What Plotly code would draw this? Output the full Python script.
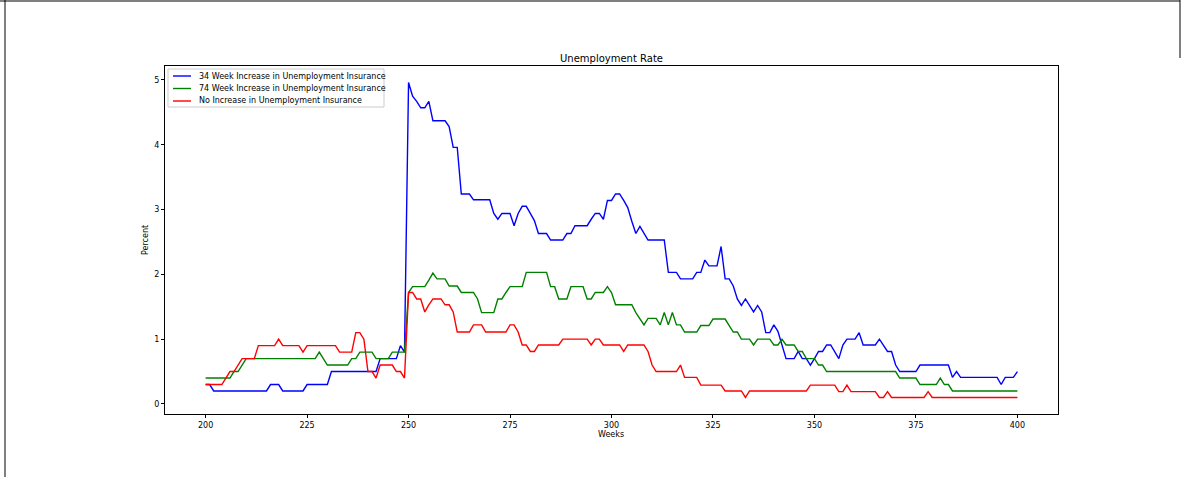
import plotly.graph_objects as go

weeks = list(range(200, 401))

increase_34 = [
    0.3, 0.3, 0.2, 0.2, 0.2, 0.2, 0.2, 0.2, 0.2, 0.2,
    0.2, 0.2, 0.2, 0.2, 0.2, 0.2, 0.3, 0.3, 0.3, 0.2,
    0.2, 0.2, 0.2, 0.2, 0.2, 0.3, 0.3, 0.3, 0.3, 0.3,
    0.3, 0.5, 0.5, 0.5, 0.5, 0.5, 0.5, 0.5, 0.5, 0.5,
    0.5, 0.5, 0.5, 0.7, 0.7, 0.7, 0.7, 0.7, 0.9, 0.8,
    4.96, 4.75, 4.67, 4.57, 4.57, 4.67, 4.37, 4.37, 4.37, 4.37,
    4.28, 3.96, 3.96, 3.24, 3.24, 3.24, 3.15, 3.15, 3.15, 3.15,
    3.15, 2.94, 2.85, 2.94, 2.94, 2.94, 2.75, 2.94, 3.05, 3.05,
    2.94, 2.83, 2.63, 2.63, 2.63, 2.53, 2.53, 2.53, 2.53, 2.63,
    2.63, 2.75, 2.75, 2.75, 2.75, 2.85, 2.94, 2.94, 2.85, 3.14,
    3.14, 3.24, 3.24, 3.14, 3.03, 2.82, 2.63, 2.74, 2.63, 2.53,
    2.53, 2.53, 2.53, 2.53, 2.03, 2.03, 2.03, 1.93, 1.93, 1.93,
    1.93, 2.03, 2.03, 2.22, 2.13, 2.13, 2.13, 2.43, 1.93, 1.93,
    1.82, 1.62, 1.52, 1.62, 1.52, 1.42, 1.52, 1.42, 1.10, 1.10,
    1.22, 1.12, 0.91, 0.70, 0.70, 0.70, 0.81, 0.70, 0.70, 0.60,
    0.70, 0.81, 0.81, 0.91, 0.91, 0.81, 0.70, 0.91, 1.0, 1.0,
    1.0, 1.10, 0.91, 0.91, 0.91, 0.91, 1.0, 0.91, 0.81, 0.81,
    0.60, 0.50, 0.50, 0.50, 0.50, 0.50, 0.60, 0.60, 0.60, 0.60,
    0.60, 0.60, 0.60, 0.60, 0.41, 0.50, 0.41, 0.41, 0.41, 0.41,
    0.41, 0.41, 0.41, 0.41, 0.41, 0.41, 0.30, 0.41, 0.41, 0.41,
    0.50,
]

increase_74 = [
    0.4, 0.4, 0.4, 0.4, 0.4, 0.4, 0.4, 0.5, 0.5, 0.6,
    0.7, 0.7, 0.7, 0.7, 0.7, 0.7, 0.7, 0.7, 0.7, 0.7,
    0.7, 0.7, 0.7, 0.7, 0.7, 0.7, 0.7, 0.7, 0.8, 0.7,
    0.6, 0.6, 0.6, 0.6, 0.6, 0.6, 0.7, 0.7, 0.8, 0.8,
    0.8, 0.8, 0.7, 0.7, 0.7, 0.7, 0.8, 0.8, 0.8, 0.8,
    1.72, 1.81, 1.81, 1.81, 1.81, 1.91, 2.02, 1.93, 1.93, 1.93,
    1.82, 1.82, 1.82, 1.72, 1.72, 1.72, 1.72, 1.62, 1.41, 1.41,
    1.41, 1.41, 1.62, 1.62, 1.72, 1.81, 1.81, 1.81, 1.81, 2.03,
    2.03, 2.03, 2.03, 2.03, 2.03, 1.81, 1.81, 1.62, 1.62, 1.62,
    1.81, 1.81, 1.81, 1.81, 1.62, 1.62, 1.72, 1.72, 1.72, 1.81,
    1.72, 1.53, 1.53, 1.53, 1.53, 1.53, 1.41, 1.32, 1.22, 1.32,
    1.32, 1.32, 1.22, 1.41, 1.22, 1.41, 1.22, 1.22, 1.11, 1.11,
    1.11, 1.11, 1.21, 1.21, 1.21, 1.31, 1.31, 1.31, 1.31, 1.21,
    1.11, 1.11, 1.0, 1.0, 1.0, 0.91, 1.0, 1.0, 1.0, 1.0,
    0.91, 0.91, 1.0, 0.91, 0.91, 0.91, 0.81, 0.81, 0.70, 0.70,
    0.70, 0.60, 0.60, 0.50, 0.50, 0.50, 0.50, 0.50, 0.50, 0.50,
    0.50, 0.50, 0.50, 0.50, 0.50, 0.50, 0.50, 0.50, 0.50, 0.50,
    0.50, 0.40, 0.40, 0.40, 0.40, 0.40, 0.30, 0.30, 0.30, 0.30,
    0.30, 0.40, 0.30, 0.30, 0.20, 0.20, 0.20, 0.20, 0.20, 0.20,
    0.20, 0.20, 0.20, 0.20, 0.20, 0.20, 0.20, 0.20, 0.20, 0.20,
    0.20,
]

no_increase = [
    0.3, 0.3, 0.3, 0.3, 0.3, 0.4, 0.5, 0.5, 0.6, 0.7,
    0.7, 0.7, 0.7, 0.9, 0.9, 0.9, 0.9, 0.9, 1.0, 0.9,
    0.9, 0.9, 0.9, 0.9, 0.8, 0.9, 0.9, 0.9, 0.9, 0.9,
    0.9, 0.9, 0.9, 0.8, 0.8, 0.8, 0.8, 1.1, 1.1, 1.0,
    0.5, 0.5, 0.4, 0.6, 0.6, 0.6, 0.6, 0.5, 0.5, 0.4,
    1.72, 1.72, 1.62, 1.62, 1.42, 1.53, 1.62, 1.62, 1.62, 1.53,
    1.53, 1.42, 1.11, 1.11, 1.11, 1.11, 1.22, 1.22, 1.22, 1.11,
    1.11, 1.11, 1.11, 1.11, 1.11, 1.22, 1.22, 1.11, 0.91, 0.91,
    0.81, 0.81, 0.91, 0.91, 0.91, 0.91, 0.91, 0.91, 1.0, 1.0,
    1.0, 1.0, 1.0, 1.0, 1.0, 0.91, 1.0, 1.0, 0.91, 0.91,
    0.91, 0.91, 0.91, 0.81, 0.91, 0.91, 0.91, 0.91, 0.91, 0.81,
    0.60, 0.50, 0.50, 0.50, 0.50, 0.50, 0.50, 0.60, 0.41, 0.41,
    0.41, 0.41, 0.29, 0.29, 0.29, 0.29, 0.29, 0.29, 0.20, 0.20,
    0.20, 0.20, 0.20, 0.10, 0.20, 0.20, 0.20, 0.20, 0.20, 0.20,
    0.20, 0.20, 0.20, 0.20, 0.20, 0.20, 0.20, 0.20, 0.20, 0.29,
    0.29, 0.29, 0.29, 0.29, 0.29, 0.29, 0.19, 0.19, 0.29, 0.19,
    0.19, 0.19, 0.19, 0.19, 0.19, 0.19, 0.10, 0.10, 0.19, 0.10,
    0.10, 0.10, 0.10, 0.10, 0.10, 0.10, 0.10, 0.10, 0.19, 0.10,
    0.10, 0.10, 0.10, 0.10, 0.10, 0.10, 0.10, 0.10, 0.10, 0.10,
    0.10, 0.10, 0.10, 0.10, 0.10, 0.10, 0.10, 0.10, 0.10, 0.10,
    0.10,
]

series_names = [
    "34 Week Increase in Unemployment Insurance",
    "74 Week Increase in Unemployment Insurance",
    "No Increase in Unemployment Insurance",
]
series_colors = ["#0000ff", "#008000", "#ff0000"]
x_ticks = [200, 225, 250, 275, 300, 325, 350, 375, 400]
y_ticks = [0, 1, 2, 3, 4, 5]

fig = go.Figure()
for name, vals, col in zip(series_names, [increase_34, increase_74, no_increase], series_colors):
    fig.add_trace(go.Scatter(x=weeks, y=vals, mode="lines", name=name,
                             line=dict(color=col, width=1.4)))

font_family = "DejaVu Sans, sans-serif"
W, H = 1182, 477
ml, mr, mt, mb = 165, 124, 66, 63
pw, ph = W - ml - mr, H - mt - mb

def px_x(px):
    return (px - ml) / pw

def px_y(py):
    return (H - mb - py) / ph

axis_common = dict(showline=True, linecolor="black", linewidth=1, mirror=True,
                   ticks="outside", ticklen=3, tickcolor="black", tickwidth=1,
                   showgrid=False, zeroline=False,
                   tickfont=dict(family=font_family, size=8, color="black"))

shapes = [
    # outer frame of the picture
    dict(type="line", xref="paper", yref="paper", x0=px_x(0), x1=px_x(1180), y0=px_y(1), y1=px_y(1),
         line=dict(color="black", width=1)),
    dict(type="line", xref="paper", yref="paper", x0=px_x(5), x1=px_x(5), y0=px_y(0), y1=px_y(H),
         line=dict(color="black", width=1)),
    dict(type="line", xref="paper", yref="paper", x0=px_x(1180), x1=px_x(1180), y0=px_y(0), y1=px_y(58),
         line=dict(color="black", width=1)),
    # legend box
    dict(type="rect", xref="paper", yref="paper", x0=px_x(168), x1=px_x(384), y0=px_y(69), y1=px_y(107),
         line=dict(color="#cccccc", width=1), fillcolor="rgba(255,255,255,0.8)"),
]
annotations = []
legend_rows = [76, 88.5, 101]
for name, col, ry in zip(series_names, series_colors, legend_rows):
    shapes.append(dict(type="line", xref="paper", yref="paper", x0=px_x(173), x1=px_x(191),
                       y0=px_y(ry), y1=px_y(ry), line=dict(color=col, width=1.4)))
    annotations.append(dict(xref="paper", yref="paper", x=px_x(197), y=px_y(ry), text=name,
                            showarrow=False, xanchor="left", yanchor="middle",
                            font=dict(family=font_family, size=8, color="black")))

annotations.append(dict(xref="paper", yref="paper", x=px_x(611), y=px_y(434), text="Weeks",
                        showarrow=False, xanchor="center", yanchor="middle",
                        font=dict(family=font_family, size=8, color="black")))
annotations.append(dict(xref="paper", yref="paper", x=px_x(145), y=px_y(240), text="Percent",
                        showarrow=False, xanchor="center", yanchor="middle", textangle=-90,
                        font=dict(family=font_family, size=8, color="black")))
annotations.append(dict(xref="paper", yref="paper", x=px_x(611), y=px_y(58), text="Unemployment Rate",
                        showarrow=False, xanchor="center", yanchor="middle",
                        font=dict(family=font_family, size=10, color="black")))

fig.update_layout(
    width=W, height=H,
    margin=dict(l=ml, r=mr, t=mt, b=mb),
    paper_bgcolor="white", plot_bgcolor="white",
    font=dict(family=font_family, size=8, color="black"),
    xaxis=dict(range=[190, 410], tickvals=x_ticks, **axis_common),
    yaxis=dict(range=[-0.155, 5.215], tickvals=y_ticks, **axis_common),
    showlegend=False,
    shapes=shapes,
    annotations=annotations,
)

fig.write_html("out.html", config={"displayModeBar": False},
               post_script="document.body.style.margin='0';")
